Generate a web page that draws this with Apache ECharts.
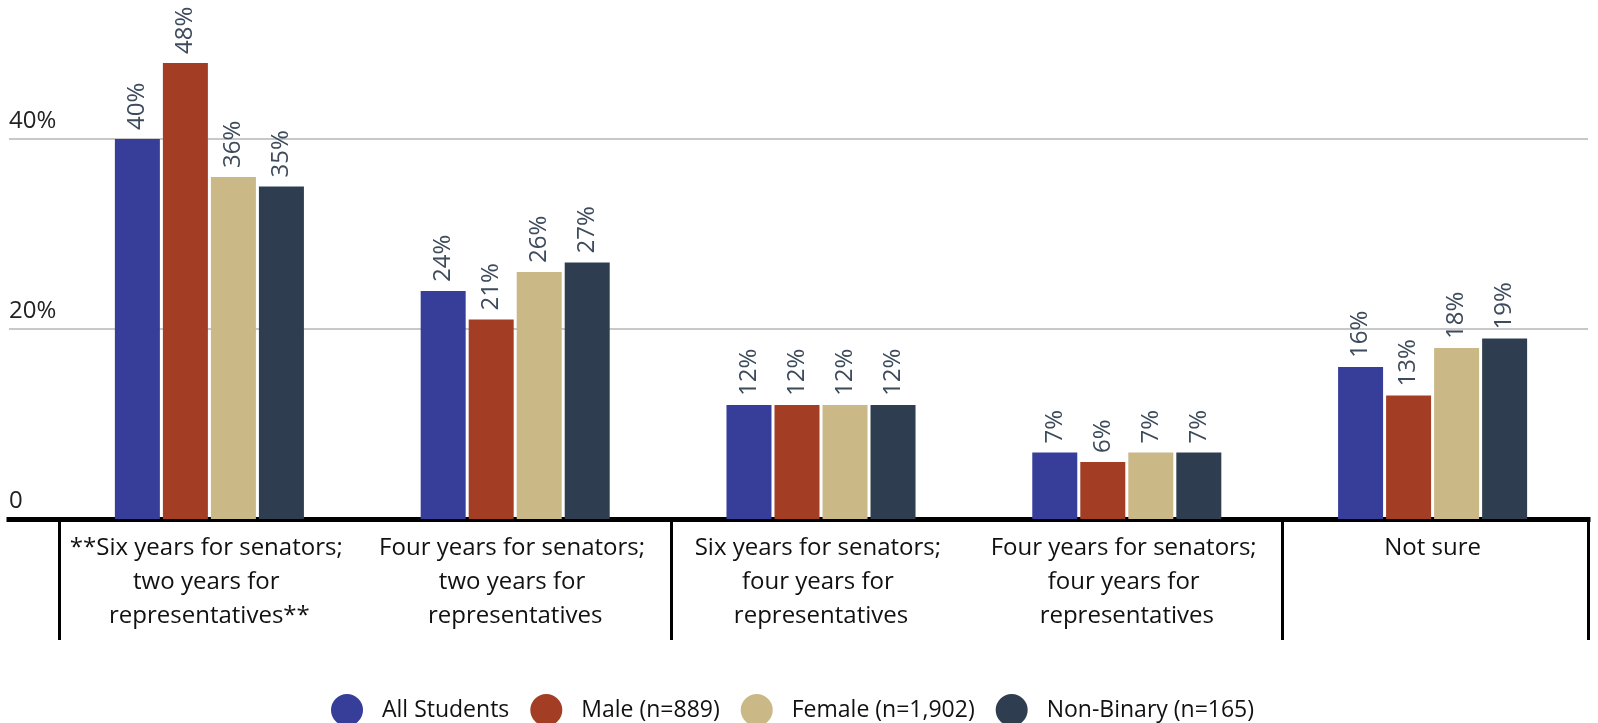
<!DOCTYPE html>
<html>
<head>
<meta charset="utf-8">
<script src="https://cdn.jsdelivr.net/npm/echarts@6/dist/echarts.min.js"></script>
<style>
html,body{margin:0;padding:0;background:#fff;}
#c{width:1598px;height:723px;}
</style>
</head>
<body>
<div id="c"></div>
<script>
var categories = [
  "**Six years for senators; two years for representatives**",
  "Four years for senators; two years for representatives",
  "Six years for senators; four years for representatives",
  "Four years for senators; four years for representatives",
  "Not sure"
];
var seriesNames = ["All Students", "Male (n=889)", "Female (n=1,902)", "Non-Binary (n=165)"];
var allStudents = [40, 24, 12, 7, 16];
var male = [48, 21, 12, 6, 13];
var female = [36, 26, 12, 7, 18];
var nonBinary = [35, 27, 12, 7, 19];
var colors = ["#373E9A", "#A33E24", "#CBB887", "#2E3E50"];
var yTicks = [0, 20, 40];

var FONT = "'Open Sans', 'Noto Sans', sans-serif";
var values = [allStudents, male, female, nonBinary];

var chart = echarts.init(document.getElementById('c'), null, {renderer: 'canvas'});

var series = values.map(function (v, i) {
  return {
    name: seriesNames[i],
    type: 'bar',
    xAxisIndex: 1,
    yAxisIndex: 1,
    data: v,
    barWidth: 45,
    barGap: '6.7%',
    itemStyle: {color: colors[i]},
    label: {
      show: true,
      position: 'top',
      rotate: 90,
      align: 'left',
      verticalAlign: 'middle',
      distance: 9,
      formatter: '{c}%',
      color: '#3D4B5C',
      fontFamily: FONT,
      fontSize: 24
    }
  };
});

chart.setOption({
  animation: false,
  color: colors,
  textStyle: {fontFamily: FONT},
  legend: {
    data: seriesNames,
    top: 689,
    left: 326,
    icon: 'circle',
    itemWidth: 32,
    itemHeight: 32,
    itemGap: 21,
    textStyle: {fontFamily: FONT, fontSize: 23, color: '#111', padding: [0, 0, 0, 14]}
  },
  grid: [
    {left: 9, right: 10, top: 44, bottom: 204},
    {left: 56.5, right: 12.5, top: 44, bottom: 204},
    {left: 59.5, right: 9.5, top: 44, bottom: 204}
  ],
  xAxis: [
    {
      type: 'category', gridIndex: 0, data: [''],
      axisLine: {show: true, lineStyle: {color: '#000', width: 5, cap: 'square'}},
      axisTick: {show: false}, axisLabel: {show: false}, offset: 2
    },
    {
      type: 'category', gridIndex: 1, data: categories,
      axisLine: {show: false},
      axisTick: {show: false},
      axisLabel: {
        show: true, interval: 0, margin: 12,
        color: '#111', fontFamily: FONT, fontSize: 24, lineHeight: 34,
        width: 285, overflow: 'break', align: 'center'
      }
    },
    {
      type: 'category', gridIndex: 2, data: categories,
      axisLine: {show: false},
      axisTick: {show: true, length: 121, lineStyle: {color: '#000', width: 3}},
      axisLabel: {show: false}
    }
  ],
  yAxis: [
    {
      type: 'value', gridIndex: 0, min: 0, max: 50, interval: 20,
      axisLine: {show: false}, axisTick: {show: false},
      splitLine: {show: true, showMaxLine: false, lineStyle: {color: '#C8C8C8', width: 2}},
      axisLabel: {
        show: true, inside: true, margin: 0, showMaxLabel: false,
        verticalAlign: 'bottom', align: 'left', padding: [0, 0, 6, 0],
        color: '#222', fontFamily: FONT, fontSize: 24,
        formatter: function (v) { return yTicks.indexOf(v) < 0 ? '' : (v === 0 ? '0' : v + '%'); }
      }
    },
    {
      type: 'value', gridIndex: 1, min: 0, max: 50, interval: 20,
      axisLine: {show: false}, axisTick: {show: false},
      splitLine: {show: false}, axisLabel: {show: false}
    },
    {
      type: 'value', gridIndex: 2, min: 0, max: 50, interval: 20,
      axisLine: {show: false}, axisTick: {show: false},
      splitLine: {show: false}, axisLabel: {show: false}
    }
  ],
  series: series
});
</script>
</body>
</html>
